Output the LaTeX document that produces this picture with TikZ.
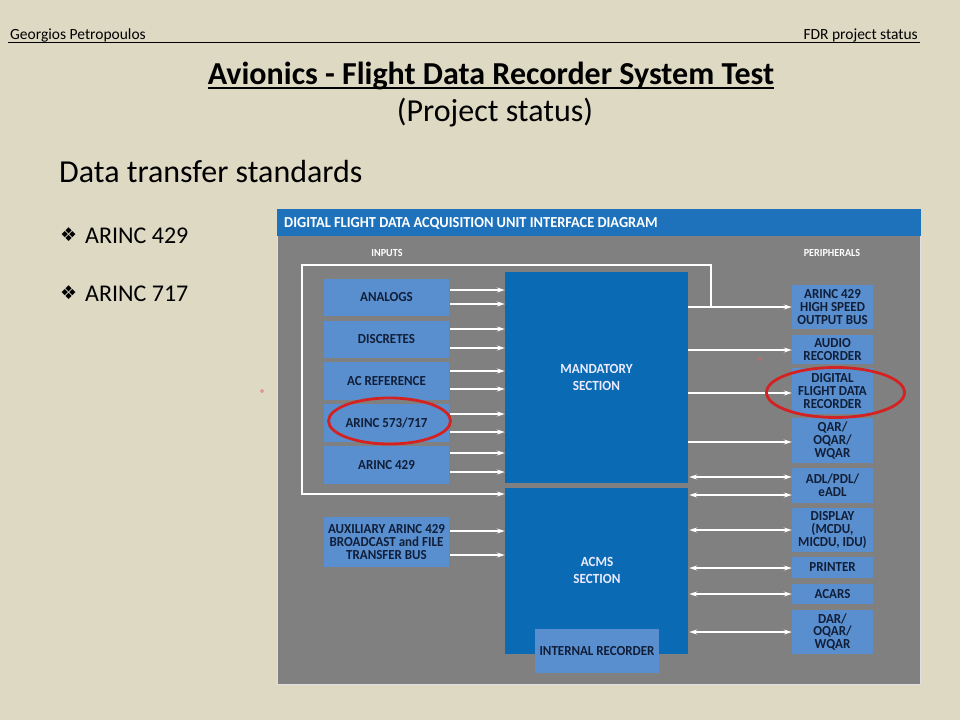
\documentclass[tikz,border=0pt]{standalone}
\usepackage{fontspec}
\setmainfont{Carlito}
\newfontfamily\dejavu{DejaVu Sans}
\newfontfamily\boxfont[FakeStretch=0.94]{Carlito}
\usetikzlibrary{arrows.meta,calc}
\definecolor{bg}{HTML}{DDD9C3}
\definecolor{panel}{HTML}{808080}
\definecolor{hdrblue}{HTML}{1E72BC}
\definecolor{darkblue}{HTML}{0B6AB4}
\definecolor{lightblue}{HTML}{5A8FCF}
\definecolor{navy}{HTML}{101E38}
\definecolor{ringred}{HTML}{D42222}
\tikzset{
  lbox/.style={fill=lightblue, draw=none, inner sep=0pt, align=center, text=navy,
    font=\boxfont\fontsize{13.8}{12.8}\selectfont\bfseries},
  dbox/.style={fill=darkblue, draw=none, inner sep=0pt, align=center, text=white!92!blue,
    font=\boxfont\fontsize{14}{17}\selectfont\bfseries},
  wline/.style={draw=white, line width=1.6pt},
  warrow/.style={wline, -{Stealth[length=8pt,width=5pt]}},
  wdarrow/.style={wline, {Stealth[length=8pt,width=5pt]}-{Stealth[length=8pt,width=5pt]}},
  ring/.style={draw=ringred, line width=2.8pt},
  dot/.style={draw=ringred!70, line width=0.6pt},
}
\begin{document}
\begin{tikzpicture}[x=1pt,y=-1pt]
\useasboundingbox (0,0) rectangle (960,720);
\fill[bg] (0,0) rectangle (960,720);
% header
\node[anchor=base west, inner sep=0pt, font=\fontsize{15.5}{17}\selectfont] (author) at (10,39) {Georgios Petropoulos};
\node[anchor=base east, inner sep=0pt, font=\fontsize{15.5}{17}\selectfont] (status) at (918,39) {FDR project status};
\draw[line width=1pt] (8,42.5) -- (920,42.5);
% title
\node[anchor=base, inner sep=0pt, font=\fontsize{32}{36}\selectfont\bfseries] (title) at (491,84) {Avionics - Flight Data Recorder System Test};
\draw[line width=1.6pt] (title.south west |- 0,88) -- (title.south east |- 0,88);
\node[anchor=base, inner sep=0pt, font=\fontsize{32}{36}\selectfont] (sub) at (495,121) {(Project status)};
\node[anchor=base west, inner sep=0pt, font=\fontsize{32}{36}\selectfont] (dts) at (59,182) {Data transfer standards};
\node[anchor=west, inner sep=0pt, font=\dejavu\fontsize{19}{20}\selectfont] (m1) at (60,234.5) {❖};
\node[anchor=base west, inner sep=0pt, font=\fontsize{24}{26}\selectfont] (b1) at (85,243) {ARINC 429};
\node[anchor=west, inner sep=0pt, font=\dejavu\fontsize{19}{20}\selectfont] (m2) at (60,292.5) {❖};
\node[anchor=base west, inner sep=0pt, font=\fontsize{24}{26}\selectfont] (b2) at (85,301) {ARINC 717};
% panel
\fill[panel] (277,209) rectangle (921,685);
\draw[white!75!panel, line width=1pt] (277.5,209.5) rectangle (920.5,684.5);
\fill[hdrblue] (277,209) rectangle (921,236);
\node[anchor=west, inner sep=0pt, text=white, font=\boxfont\fontsize{15.3}{16}\selectfont\bfseries] (ptitle) at (284,223) {DIGITAL FLIGHT DATA ACQUISITION UNIT INTERFACE DIAGRAM};
\node[inner sep=0pt, text=white, font=\boxfont\fontsize{10.8}{12}\selectfont\bfseries] (inputs) at (387,253) {INPUTS};
\node[inner sep=0pt, text=white, font=\boxfont\fontsize{10.8}{12}\selectfont\bfseries] (periph) at (832,253) {PERIPHERALS};
% inputs
\node[lbox, minimum width=125pt, minimum height=37pt] (analogs) at (386.5,297.5) {ANALOGS};
\node[lbox, minimum width=125pt, minimum height=37pt] (discretes) at (386.5,339.5) {DISCRETES};
\node[lbox, minimum width=125pt, minimum height=38pt] (acref) at (386.5,381) {AC REFERENCE};
\node[lbox, minimum width=125pt, minimum height=38pt] (a573) at (386.5,423) {ARINC 573/717};
\node[lbox, minimum width=125pt, minimum height=38pt] (a429) at (386.5,465) {ARINC 429};
\node[lbox, minimum width=125pt, minimum height=50pt] (aux) at (386.5,542) {AUXILIARY ARINC 429\\BROADCAST and FILE\\TRANSFER BUS};
% sections
\node[dbox, minimum width=183pt, minimum height=211pt] (mand) at (596.5,377.5) {MANDATORY\\SECTION};
\node[dbox, minimum width=183pt, minimum height=166pt] (acms) at (596.5,571) {};
\node[dbox, fill=none, anchor=center] (acmslbl) at (597,570) {ACMS\\SECTION};
\node[lbox, minimum width=124pt, minimum height=44pt] (intrec) at (597,651) {INTERNAL RECORDER};
% peripherals
\node[lbox, minimum width=81pt, minimum height=44pt] (hs) at (832.5,307) {ARINC 429\\HIGH SPEED\\OUTPUT BUS};
\node[lbox, minimum width=81pt, minimum height=29pt] (audio) at (832.5,349.5) {AUDIO\\RECORDER};
\node[lbox, minimum width=81pt, minimum height=46pt] (dfdr) at (832.5,391) {DIGITAL\\FLIGHT DATA\\RECORDER};
\node[lbox, minimum width=81pt, minimum height=45pt] (qar) at (832.5,440.5) {QAR/\\OQAR/\\WQAR};
\node[lbox, minimum width=81pt, minimum height=35pt] (adl) at (832.5,485.5) {ADL/PDL/\\eADL};
\node[lbox, minimum width=81pt, minimum height=44pt] (disp) at (832.5,530) {DISPLAY\\(MCDU,\\MICDU, IDU)};
\node[lbox, minimum width=81pt, minimum height=21pt] (printer) at (832.5,567.5) {PRINTER};
\node[lbox, minimum width=81pt, minimum height=20pt] (acars) at (832.5,594) {ACARS};
\node[lbox, minimum width=81pt, minimum height=44pt] (dar) at (832.5,632) {DAR/\\OQAR/\\WQAR};
% input arrows
\foreach \n/\ya/\yb in {analogs/290/304, discretes/329/348, acref/371/389, a573/414/432, a429/453/472}{
  \draw[warrow] ($(\n.east |- 0,\ya)+(1,0)$) -- (mand.west |- 0,\ya);
  \draw[warrow] ($(\n.east |- 0,\yb)+(1,0)$) -- (mand.west |- 0,\yb);
}
\draw[warrow] ($(aux.east |- 0,531)+(1,0)$) -- (acms.west |- 0,531);
\draw[warrow] ($(aux.east |- 0,555)+(1,0)$) -- (acms.west |- 0,555);
% frame line
\coordinate (fj) at (711,307);
\coordinate (ftr) at (711,265);
\coordinate (ftl) at (302,265);
\coordinate (fbl) at (302,494);
\draw[warrow] (fj) -- (ftr) -- (ftl) -- (fbl) -- (acms.west |- fbl);
% output arrows
\draw[warrow] (mand.east |- 0,307) -- (hs.west |- 0,307);
\draw[warrow] (mand.east |- 0,350) -- (audio.west |- 0,350);
\draw[warrow] (mand.east |- 0,393) -- (dfdr.west |- 0,393);
\draw[warrow] (mand.east |- 0,442) -- (qar.west |- 0,442);
\foreach \n/\y in {adl/477, adl/495, disp/530, printer/568, acars/594, dar/632}{
  \draw[wdarrow] ($(acms.east |- 0,\y)+(1,0)$) -- (\n.west |- 0,\y);
}
% red rings
\draw[ring] (389.5,421) ellipse [x radius=61pt, y radius=23pt];
\draw[ring] (835.5,392.5) ellipse [x radius=69pt, y radius=25pt];
\draw[dot] (262,391) circle (1.5pt);
\draw[dot] (760,359) circle (1.5pt);
\end{tikzpicture}
\end{document}
